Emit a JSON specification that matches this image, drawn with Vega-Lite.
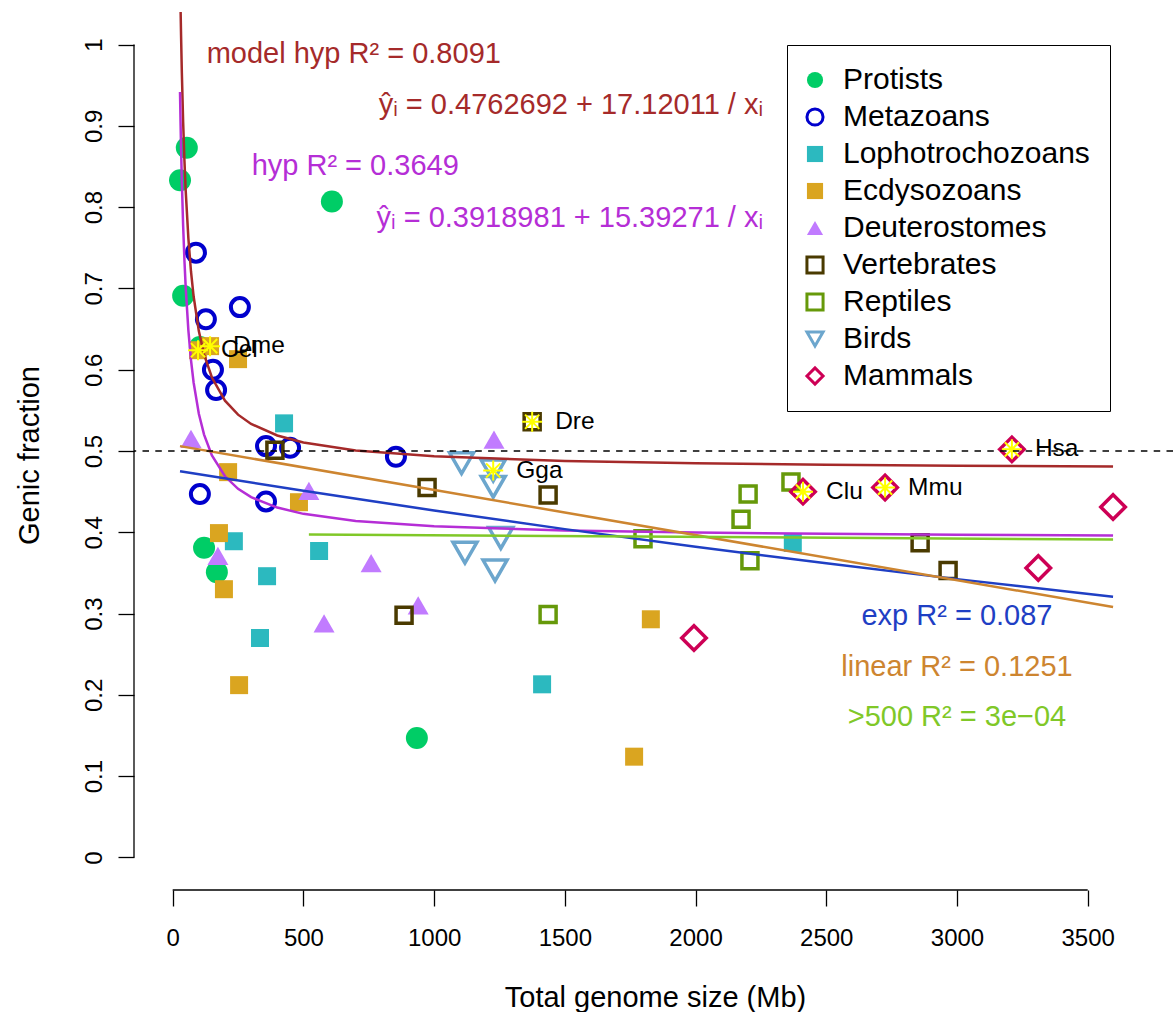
{
  "$schema": "https://vega.github.io/schema/vega-lite/v6.json",
  "width": 1039,
  "height": 878,
  "autosize": {"type": "none"},
  "padding": {"left": 134, "top": 12, "right": 0, "bottom": 122},
  "background": "white",
  "config": {"view": {"stroke": null}, "font": "Liberation Sans"},
  "datasets": {
    "pts": [
      {"g": "Protists", "x": 28, "y": 0.833},
      {"g": "Protists", "x": 54, "y": 0.873},
      {"g": "Protists", "x": 40, "y": 0.691},
      {"g": "Protists", "x": 609, "y": 0.807},
      {"g": "Protists", "x": 120, "y": 0.381},
      {"g": "Protists", "x": 169, "y": 0.351},
      {"g": "Protists", "x": 934, "y": 0.147},
      {"g": "Protists", "x": 104, "y": 0.628},
      {"g": "Metazoans", "x": 89, "y": 0.744},
      {"g": "Metazoans", "x": 257, "y": 0.677},
      {"g": "Metazoans", "x": 127, "y": 0.662},
      {"g": "Metazoans", "x": 154, "y": 0.6},
      {"g": "Metazoans", "x": 166, "y": 0.575},
      {"g": "Metazoans", "x": 357, "y": 0.506},
      {"g": "Metazoans", "x": 449, "y": 0.504},
      {"g": "Metazoans", "x": 854, "y": 0.493},
      {"g": "Metazoans", "x": 104, "y": 0.447},
      {"g": "Metazoans", "x": 357, "y": 0.438},
      {"g": "Lophotrochozoans", "x": 426, "y": 0.534},
      {"g": "Lophotrochozoans", "x": 234, "y": 0.389},
      {"g": "Lophotrochozoans", "x": 560, "y": 0.377},
      {"g": "Lophotrochozoans", "x": 361, "y": 0.346},
      {"g": "Lophotrochozoans", "x": 334, "y": 0.27},
      {"g": "Lophotrochozoans", "x": 1413, "y": 0.213},
      {"g": "Lophotrochozoans", "x": 2372, "y": 0.387},
      {"g": "Ecdysozoans", "x": 97, "y": 0.624, "lab": "Cel"},
      {"g": "Ecdysozoans", "x": 143, "y": 0.629, "lab": "Dme"},
      {"g": "Ecdysozoans", "x": 250, "y": 0.613},
      {"g": "Ecdysozoans", "x": 212, "y": 0.474},
      {"g": "Ecdysozoans", "x": 483, "y": 0.437},
      {"g": "Ecdysozoans", "x": 177, "y": 0.399},
      {"g": "Ecdysozoans", "x": 196, "y": 0.33},
      {"g": "Ecdysozoans", "x": 254, "y": 0.212},
      {"g": "Ecdysozoans", "x": 1829, "y": 0.293},
      {"g": "Ecdysozoans", "x": 1765, "y": 0.124},
      {"g": "Deuterostomes", "x": 70, "y": 0.515},
      {"g": "Deuterostomes", "x": 521, "y": 0.451},
      {"g": "Deuterostomes", "x": 173, "y": 0.371},
      {"g": "Deuterostomes", "x": 759, "y": 0.362},
      {"g": "Deuterostomes", "x": 579, "y": 0.288},
      {"g": "Deuterostomes", "x": 939, "y": 0.31},
      {"g": "Deuterostomes", "x": 1229, "y": 0.514},
      {"g": "Vertebrates", "x": 391, "y": 0.501},
      {"g": "Vertebrates", "x": 973, "y": 0.455},
      {"g": "Vertebrates", "x": 885, "y": 0.298},
      {"g": "Vertebrates", "x": 1436, "y": 0.446},
      {"g": "Vertebrates", "x": 2859, "y": 0.387},
      {"g": "Vertebrates", "x": 2966, "y": 0.353},
      {"g": "Vertebrates", "x": 1375, "y": 0.536, "lab": "Dre"},
      {"g": "Reptiles", "x": 1799, "y": 0.392},
      {"g": "Reptiles", "x": 1436, "y": 0.299},
      {"g": "Reptiles", "x": 2201, "y": 0.447},
      {"g": "Reptiles", "x": 2174, "y": 0.416},
      {"g": "Reptiles", "x": 2208, "y": 0.365},
      {"g": "Reptiles", "x": 2365, "y": 0.462},
      {"g": "Birds", "x": 1105, "y": 0.485},
      {"g": "Birds", "x": 1226, "y": 0.476, "lab": "Gga"},
      {"g": "Birds", "x": 1226, "y": 0.456},
      {"g": "Birds", "x": 1255, "y": 0.393},
      {"g": "Birds", "x": 1118, "y": 0.375},
      {"g": "Birds", "x": 1233, "y": 0.353},
      {"g": "Mammals", "x": 1994, "y": 0.27},
      {"g": "Mammals", "x": 3210, "y": 0.502, "lab": "Hsa"},
      {"g": "Mammals", "x": 2411, "y": 0.45, "lab": "Clu"},
      {"g": "Mammals", "x": 2725, "y": 0.455, "lab": "Mmu"},
      {"g": "Mammals", "x": 3597, "y": 0.431},
      {"g": "Mammals", "x": 3311, "y": 0.356}
    ],
    "fits": [
      {"f": "model hyp", "x": 28, "y": 1.0877},
      {"f": "model hyp", "x": 30, "y": 1.0469},
      {"f": "model hyp", "x": 32, "y": 1.0113},
      {"f": "model hyp", "x": 35, "y": 0.9654},
      {"f": "model hyp", "x": 40, "y": 0.9043},
      {"f": "model hyp", "x": 45, "y": 0.8567},
      {"f": "model hyp", "x": 50, "y": 0.8187},
      {"f": "model hyp", "x": 60, "y": 0.7616},
      {"f": "model hyp", "x": 70, "y": 0.7208},
      {"f": "model hyp", "x": 80, "y": 0.6903},
      {"f": "model hyp", "x": 100, "y": 0.6475},
      {"f": "model hyp", "x": 120, "y": 0.6189},
      {"f": "model hyp", "x": 150, "y": 0.5904},
      {"f": "model hyp", "x": 200, "y": 0.5619},
      {"f": "model hyp", "x": 250, "y": 0.5447},
      {"f": "model hyp", "x": 300, "y": 0.5333},
      {"f": "model hyp", "x": 400, "y": 0.5191},
      {"f": "model hyp", "x": 500, "y": 0.5105},
      {"f": "model hyp", "x": 700, "y": 0.5007},
      {"f": "model hyp", "x": 1000, "y": 0.4934},
      {"f": "model hyp", "x": 1500, "y": 0.4877},
      {"f": "model hyp", "x": 2000, "y": 0.4848},
      {"f": "model hyp", "x": 2500, "y": 0.4831},
      {"f": "model hyp", "x": 3000, "y": 0.482},
      {"f": "model hyp", "x": 3597, "y": 0.481},
      {"f": "hyp", "x": 28, "y": 0.9416},
      {"f": "hyp", "x": 30, "y": 0.905},
      {"f": "hyp", "x": 32, "y": 0.8729},
      {"f": "hyp", "x": 35, "y": 0.8317},
      {"f": "hyp", "x": 40, "y": 0.7767},
      {"f": "hyp", "x": 45, "y": 0.734},
      {"f": "hyp", "x": 50, "y": 0.6998},
      {"f": "hyp", "x": 60, "y": 0.6484},
      {"f": "hyp", "x": 70, "y": 0.6118},
      {"f": "hyp", "x": 80, "y": 0.5843},
      {"f": "hyp", "x": 100, "y": 0.5458},
      {"f": "hyp", "x": 120, "y": 0.5202},
      {"f": "hyp", "x": 150, "y": 0.4945},
      {"f": "hyp", "x": 200, "y": 0.4689},
      {"f": "hyp", "x": 250, "y": 0.4535},
      {"f": "hyp", "x": 300, "y": 0.4432},
      {"f": "hyp", "x": 400, "y": 0.4304},
      {"f": "hyp", "x": 500, "y": 0.4227},
      {"f": "hyp", "x": 700, "y": 0.4139},
      {"f": "hyp", "x": 1000, "y": 0.4073},
      {"f": "hyp", "x": 1500, "y": 0.4022},
      {"f": "hyp", "x": 2000, "y": 0.3996},
      {"f": "hyp", "x": 2500, "y": 0.3981},
      {"f": "hyp", "x": 3000, "y": 0.397},
      {"f": "hyp", "x": 3597, "y": 0.3962},
      {"f": "exp", "x": 28, "y": 0.475},
      {"f": "exp", "x": 500, "y": 0.451},
      {"f": "exp", "x": 1000, "y": 0.4268},
      {"f": "exp", "x": 1500, "y": 0.4039},
      {"f": "exp", "x": 2000, "y": 0.3822},
      {"f": "exp", "x": 2500, "y": 0.3618},
      {"f": "exp", "x": 3000, "y": 0.3424},
      {"f": "exp", "x": 3597, "y": 0.3206},
      {"f": "linear", "x": 28, "y": 0.506},
      {"f": "linear", "x": 3597, "y": 0.308},
      {"f": ">500", "x": 521, "y": 0.3974},
      {"f": ">500", "x": 3597, "y": 0.391}
    ],
    "n1": [
      {"f": "model hyp", "t": "model hyp R² = 0.8091", "x": 130, "y": 0.988},
      {"f": "hyp", "t": "hyp R² = 0.3649", "x": 302, "y": 0.851}
    ],
    "n2": [
      {"f": "model hyp", "t": "ŷᵢ = 0.4762692 + 17.12011 / xᵢ", "x": 2258, "y": 0.925},
      {"f": "hyp", "t": "ŷᵢ = 0.3918981 + 15.39271 / xᵢ", "x": 2258, "y": 0.786}
    ],
    "n3": [
      {"f": "exp", "t": "exp R² = 0.087", "x": 3000, "y": 0.297},
      {"f": "linear", "t": "linear R² = 0.1251", "x": 3000, "y": 0.234},
      {"f": ">500", "t": ">500 R² = 3e−04", "x": 3000, "y": 0.173}
    ]
  },
  "layer": [
    {
      "data": {"name": "pts"},
      "transform": [{"filter": {"field": "g", "oneOf": ["Protists"]}}],
      "mark": {"type": "point", "size": 484, "strokeWidth": 0, "opacity": 1},
      "encoding": {
        "x": {"field": "x", "type": "quantitative", "scale": {"domain": [-148, 3826.3], "nice": false, "zero": false},
          "axis": {"values": [0, 500, 1000, 1500, 2000, 2500, 3000, 3500], "format": "d", "title": "Total genome size (Mb)", "grid": false, "domain": false,
            "tickSize": 16, "tickColor": "black", "tickWidth": 1.3, "labelFontSize": 24, "labelFont": "Liberation Sans", "labelColor": "black",
            "labelPadding": 20, "labelBaseline": "top", "labelFlush": false, "labelOverlap": false,
            "titleFontSize": 29, "titleFont": "Liberation Sans", "titleFontWeight": "normal", "titleColor": "black",
            "titleBaseline": "alphabetic", "titleAlign": "center", "titleX": 521, "titleY": 116}},
        "y": {"field": "y", "type": "quantitative", "scale": {"domain": [-0.04, 1.04], "nice": false, "zero": false},
          "axis": {"values": [0, 0.1, 0.2, 0.3, 0.4, 0.5, 0.6, 0.7, 0.8, 0.9, 1], "format": "~g", "title": "Genic fraction", "grid": false, "domain": false,
            "tickSize": 16, "tickColor": "black", "tickWidth": 1.3, "labelFontSize": 24, "labelFont": "Liberation Sans", "labelColor": "black",
            "labelAngle": -90, "labelAlign": "center", "labelBaseline": "alphabetic", "labelPadding": 17, "labelFlush": false, "labelOverlap": false,
            "titleFontSize": 29, "titleFont": "Liberation Sans", "titleFontWeight": "normal", "titleColor": "black",
            "titleAngle": -90, "titleBaseline": "alphabetic", "titleAlign": "center", "titleX": -96, "titleY": 443}},
        "shape": {"field": "g", "type": "nominal",
          "scale": {"domain": ["Protists", "Metazoans", "Lophotrochozoans", "Ecdysozoans", "Deuterostomes", "Vertebrates", "Reptiles", "Birds", "Mammals"],
            "range": ["circle", "circle", "square", "square", "triangle-up", "square", "square", "triangle-down", "diamond"]},
          "legend": {"orient": "none", "legendX": 653, "legendY": 33, "title": null, "padding": 20, "strokeColor": "black", "fillColor": "white",
            "labelFont": "Liberation Sans", "labelFontSize": 30, "labelColor": "black", "symbolSize": 260, "symbolStrokeWidth": 3,
            "rowPadding": 7, "labelOffset": 13, "symbolOffset": -7, "labelLimit": 400}},
        "fill": {"field": "g", "type": "nominal",
          "scale": {"domain": ["Protists", "Metazoans", "Lophotrochozoans", "Ecdysozoans", "Deuterostomes", "Vertebrates", "Reptiles", "Birds", "Mammals"],
            "range": ["#00CD66", "transparent", "#2CB9BF", "#DAA520", "#C17BFF", "transparent", "transparent", "transparent", "transparent"]},
          "legend": {"orient": "none", "legendX": 653, "legendY": 33, "title": null, "padding": 20, "strokeColor": "black", "fillColor": "white",
            "labelFont": "Liberation Sans", "labelFontSize": 30, "labelColor": "black", "symbolSize": 260, "symbolStrokeWidth": 3,
            "rowPadding": 7, "labelOffset": 13, "symbolOffset": -7, "labelLimit": 400}},
        "stroke": {"field": "g", "type": "nominal",
          "scale": {"domain": ["Protists", "Metazoans", "Lophotrochozoans", "Ecdysozoans", "Deuterostomes", "Vertebrates", "Reptiles", "Birds", "Mammals"],
            "range": ["transparent", "#0000CD", "transparent", "transparent", "transparent", "#4A3A00", "#66990A", "#6CA6CD", "#CD0055"]},
          "legend": {"orient": "none", "legendX": 653, "legendY": 33, "title": null, "padding": 20, "strokeColor": "black", "fillColor": "white",
            "labelFont": "Liberation Sans", "labelFontSize": 30, "labelColor": "black", "symbolSize": 260, "symbolStrokeWidth": 3,
            "rowPadding": 7, "labelOffset": 13, "symbolOffset": -7, "labelLimit": 400}}
      }
    },
    {
      "data": {"name": "pts"},
      "transform": [{"filter": {"field": "g", "oneOf": ["Metazoans"]}}],
      "mark": {"type": "point", "size": 324, "strokeWidth": 4, "opacity": 1},
      "encoding": {"x": {"field": "x", "type": "quantitative"}, "y": {"field": "y", "type": "quantitative"},
        "shape": {"field": "g", "type": "nominal"}, "fill": {"field": "g", "type": "nominal"}, "stroke": {"field": "g", "type": "nominal"}}
    },
    {
      "data": {"name": "pts"},
      "transform": [{"filter": {"field": "g", "oneOf": ["Lophotrochozoans", "Ecdysozoans"]}}],
      "mark": {"type": "point", "size": 324, "strokeWidth": 0, "opacity": 1},
      "encoding": {"x": {"field": "x", "type": "quantitative"}, "y": {"field": "y", "type": "quantitative"},
        "shape": {"field": "g", "type": "nominal"}, "fill": {"field": "g", "type": "nominal"}, "stroke": {"field": "g", "type": "nominal"}}
    },
    {
      "data": {"name": "pts"},
      "transform": [{"filter": {"field": "g", "oneOf": ["Deuterostomes"]}}],
      "mark": {"type": "point", "size": 441, "strokeWidth": 0, "opacity": 1},
      "encoding": {"x": {"field": "x", "type": "quantitative"}, "y": {"field": "y", "type": "quantitative"},
        "shape": {"field": "g", "type": "nominal"}, "fill": {"field": "g", "type": "nominal"}, "stroke": {"field": "g", "type": "nominal"}}
    },
    {
      "data": {"name": "pts"},
      "transform": [{"filter": {"field": "g", "oneOf": ["Vertebrates", "Reptiles"]}}],
      "mark": {"type": "point", "size": 256, "strokeWidth": 3.5, "opacity": 1},
      "encoding": {"x": {"field": "x", "type": "quantitative"}, "y": {"field": "y", "type": "quantitative"},
        "shape": {"field": "g", "type": "nominal"}, "fill": {"field": "g", "type": "nominal"}, "stroke": {"field": "g", "type": "nominal"}}
    },
    {
      "data": {"name": "pts"},
      "transform": [{"filter": {"field": "g", "oneOf": ["Birds"]}}],
      "mark": {"type": "point", "size": 576, "strokeWidth": 3.5, "opacity": 1},
      "encoding": {"x": {"field": "x", "type": "quantitative"}, "y": {"field": "y", "type": "quantitative"},
        "shape": {"field": "g", "type": "nominal"}, "fill": {"field": "g", "type": "nominal"}, "stroke": {"field": "g", "type": "nominal"}}
    },
    {
      "data": {"name": "pts"},
      "transform": [{"filter": {"field": "g", "oneOf": ["Mammals"]}}],
      "mark": {"type": "point", "size": 600, "strokeWidth": 3.5, "opacity": 1},
      "encoding": {"x": {"field": "x", "type": "quantitative"}, "y": {"field": "y", "type": "quantitative"},
        "shape": {"field": "g", "type": "nominal"}, "fill": {"field": "g", "type": "nominal"}, "stroke": {"field": "g", "type": "nominal"}}
    },
    {
      "data": {"name": "fits"},
      "mark": {"type": "line", "strokeWidth": 2.5, "clip": true},
      "encoding": {"x": {"field": "x", "type": "quantitative"}, "y": {"field": "y", "type": "quantitative"},
        "color": {"field": "f", "type": "nominal", "legend": null,
          "scale": {"domain": ["model hyp", "hyp", "exp", "linear", ">500"], "range": ["#A52A2A", "#B52ED6", "#1F3FC4", "#CD8530", "#80C828"]}}}
    },
    {
      "data": {"name": "pts"},
      "transform": [{"filter": "isString(datum.lab)"}],
      "mark": {"type": "point", "shape": "M-1,0L1,0M0,-1L0,1M-0.71,-0.71L0.71,0.71M-0.71,0.71L0.71,-0.71", "size": 400, "stroke": "#FFFF00", "strokeWidth": 2, "filled": false, "opacity": 1},
      "encoding": {"x": {"field": "x", "type": "quantitative"}, "y": {"field": "y", "type": "quantitative"}}
    },
    {
      "data": {"name": "pts"},
      "transform": [{"filter": "isString(datum.lab)"}],
      "mark": {"type": "text", "align": "left", "baseline": "middle", "dx": 23, "fontSize": 24.5, "font": "Liberation Sans", "color": "black"},
      "encoding": {"x": {"field": "x", "type": "quantitative"}, "y": {"field": "y", "type": "quantitative"}, "text": {"field": "lab"}}
    },
    {
      "data": {"values": [{}]},
      "mark": {"type": "rule", "color": "black", "strokeWidth": 1.5, "strokeDash": [6.5, 6.3]},
      "encoding": {"y": {"datum": 0.5, "type": "quantitative"}}
    },
    {
      "data": {"name": "n1"},
      "mark": {"type": "text", "align": "left", "baseline": "middle", "fontSize": 29, "font": "Liberation Sans"},
      "encoding": {"x": {"field": "x", "type": "quantitative"}, "y": {"field": "y", "type": "quantitative"}, "text": {"field": "t"},
        "color": {"field": "f", "type": "nominal", "legend": null}}
    },
    {
      "data": {"name": "n2"},
      "mark": {"type": "text", "align": "right", "baseline": "middle", "fontSize": 29, "font": "Liberation Sans"},
      "encoding": {"x": {"field": "x", "type": "quantitative"}, "y": {"field": "y", "type": "quantitative"}, "text": {"field": "t"},
        "color": {"field": "f", "type": "nominal", "legend": null}}
    },
    {
      "data": {"name": "n3"},
      "mark": {"type": "text", "align": "center", "baseline": "middle", "fontSize": 29, "font": "Liberation Sans"},
      "encoding": {"x": {"field": "x", "type": "quantitative"}, "y": {"field": "y", "type": "quantitative"}, "text": {"field": "t"},
        "color": {"field": "f", "type": "nominal", "legend": null}}
    },
    {
      "data": {"values": [{"a": 0, "b": 1}]},
      "mark": {"type": "rule", "color": "black", "strokeWidth": 1.3},
      "encoding": {"x": {"datum": -148, "type": "quantitative"}, "y": {"field": "a", "type": "quantitative"}, "y2": {"field": "b"}}
    },
    {
      "data": {"values": [{"a": 0, "b": 3500}]},
      "mark": {"type": "rule", "color": "black", "strokeWidth": 1.3},
      "encoding": {"x": {"field": "a", "type": "quantitative"}, "x2": {"field": "b"}, "y": {"datum": -0.04, "type": "quantitative"}}
    }
  ]
}
